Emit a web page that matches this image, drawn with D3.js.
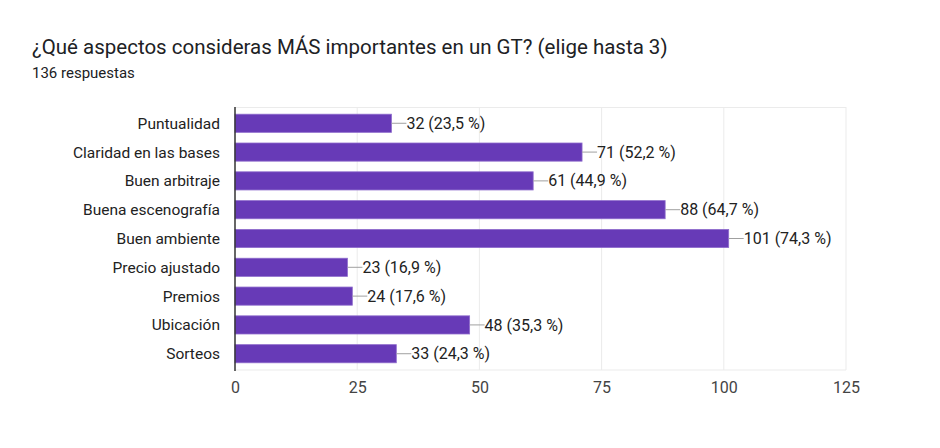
<!DOCTYPE html>
<html>
<head>
<meta charset="utf-8">
<script src="https://cdn.jsdelivr.net/npm/d3@7"></script>
<style>
  body { margin: 0; background: #fff; font-family: Roboto, Arial, sans-serif; }
  .title { font-size: 20.5px; fill: #202124; }
  .subtitle { font-size: 15px; fill: #202124; }
  .cat { font-size: 15.5px; fill: #222; }
  .val { font-size: 16px; fill: #222; }
  .tick text { font-size: 16px; fill: #444; }
</style>
</head>
<body>
<div id="chart"></div>
<script>
// Chart data
const categories = ["Puntualidad", "Claridad en las bases", "Buen arbitraje", "Buena escenografía",
    "Buen ambiente", "Precio ajustado", "Premios", "Ubicación", "Sorteos"];
const counts = [32, 71, 61, 88, 101, 23, 24, 48, 33];
const percents = ["23,5", "52,2", "44,9", "64,7", "74,3", "16,9", "17,6", "35,3", "24,3"];
const xTicks = [0, 25, 50, 75, 100, 125];

const data = categories.map((c, i) => ({ cat: c, n: counts[i], pct: percents[i] }));

const W = 940, H = 448;
const margin = { top: 107, right: 94, bottom: 78, left: 235 };
const width = W - margin.left - margin.right;
const height = H - margin.top - margin.bottom;

const root = d3.select("#chart").append("svg")
    .attr("width", W)
    .attr("height", H);

root.append("text").attr("class", "title")
    .attr("x", 32).attr("y", 54)
    .text("¿Qué aspectos consideras MÁS importantes en un GT? (elige hasta 3)");
root.append("text").attr("class", "subtitle")
    .attr("x", 32).attr("y", 78)
    .text("136 respuestas");

const svg = root.append("g")
    .attr("transform", `translate(${margin.left},${margin.top})`);

const x = d3.scaleLinear().domain([0, 125]).range([0, width]);
const y = d3.scaleBand().domain(categories).range([0, height]).paddingInner(0.37).paddingOuter(0.25);

// Gridlines
svg.selectAll(".grid")
    .data(xTicks.slice(1))
    .enter().append("line")
    .attr("x1", d => x(d)).attr("x2", d => x(d))
    .attr("y1", 0).attr("y2", height)
    .attr("stroke", "#ebebeb");
svg.append("line")
    .attr("x1", 0).attr("x2", width)
    .attr("y1", 0.5).attr("y2", 0.5)
    .attr("stroke", "#ebebeb");
svg.append("line")
    .attr("x1", 0).attr("x2", width)
    .attr("y1", height).attr("y2", height)
    .attr("stroke", "#ebebeb");

// X axis
const xAxis = svg.append("g")
    .attr("transform", `translate(0,${height})`)
    .call(d3.axisBottom(x).tickValues(xTicks).tickSize(0).tickPadding(11.5));
xAxis.select(".domain").remove();
xAxis.selectAll("text").attr("font-family", "Roboto, Arial, sans-serif");

// Category labels
svg.selectAll(".cat")
    .data(data)
    .enter().append("text")
    .attr("class", "cat")
    .attr("x", -15)
    .attr("y", d => y(d.cat) + y.bandwidth() / 2)
    .attr("dy", "0.35em")
    .attr("text-anchor", "end")
    .text(d => d.cat);

// Bars
svg.selectAll(".bar")
    .data(data)
    .enter().append("rect")
    .attr("class", "bar")
    .attr("x", 0)
    .attr("y", d => y(d.cat))
    .attr("width", d => x(d.n))
    .attr("height", y.bandwidth())
    .attr("fill", "#673ab7")
    .attr("stroke", "#8e6bcc")
    .attr("stroke-width", 0.8);

// Leader lines
svg.selectAll(".lead")
    .data(data)
    .enter().append("line")
    .attr("x1", d => x(d.n))
    .attr("x2", d => x(d.n) + 15)
    .attr("y1", d => y(d.cat) + y.bandwidth() / 2)
    .attr("y2", d => y(d.cat) + y.bandwidth() / 2)
    .attr("stroke", "#a0a0a0")
    .attr("stroke-width", 1);

// Value labels
svg.selectAll(".val")
    .data(data)
    .enter().append("text")
    .attr("class", "val")
    .attr("x", d => x(d.n) + 15)
    .attr("y", d => y(d.cat) + y.bandwidth() / 2)
    .attr("dy", "0.35em")
    .text(d => `${d.n} (${d.pct} %)`);

// Y axis line
svg.append("line")
    .attr("x1", 0).attr("x2", 0)
    .attr("y1", 0).attr("y2", height + 1)
    .attr("stroke", "#333")
    .attr("stroke-width", 1.5);
</script>
</body>
</html>
